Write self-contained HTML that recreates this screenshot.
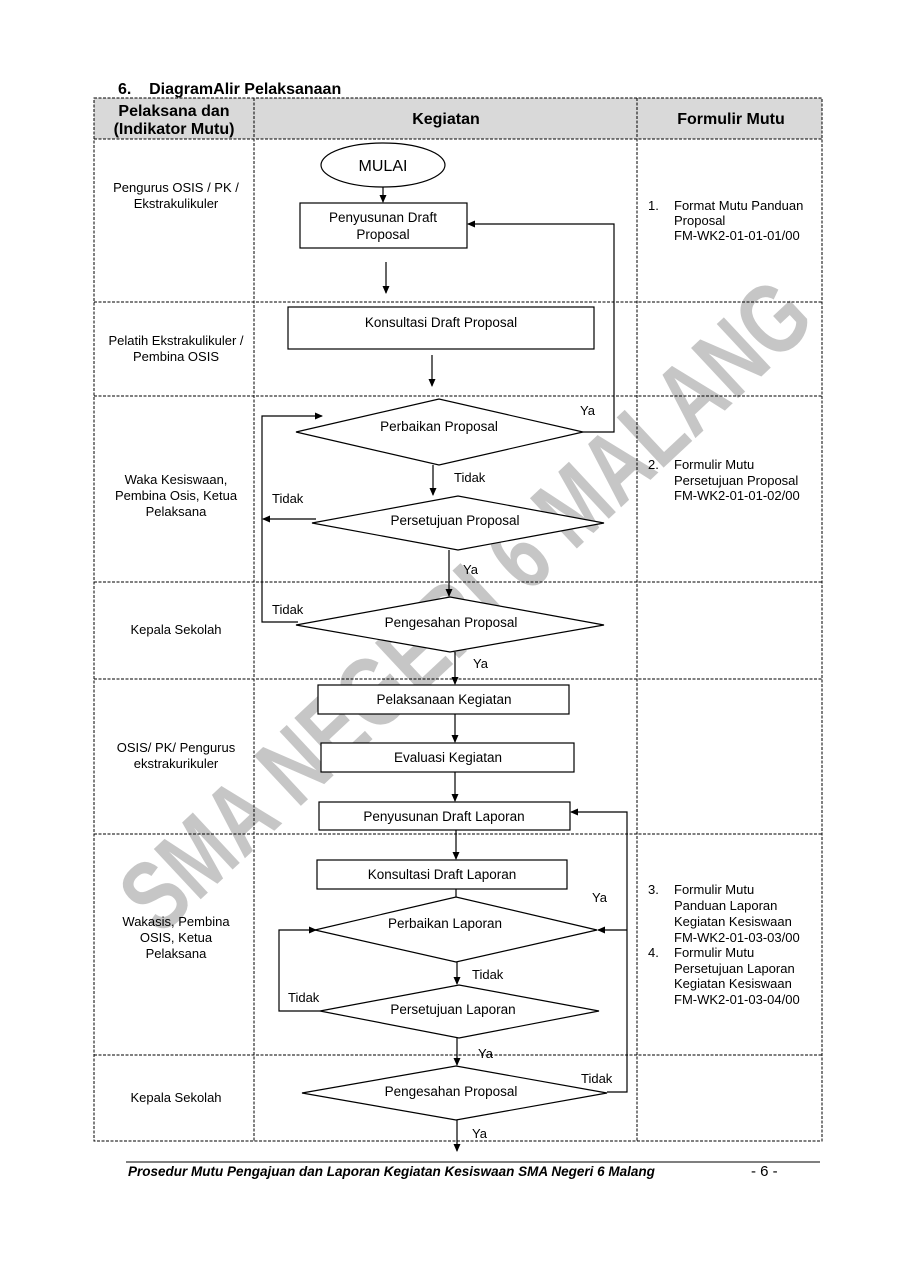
<!DOCTYPE html>
<html><head><meta charset="utf-8"><style>
html,body{margin:0;padding:0;background:#fff;}
svg{display:block;}
text{font-family:"Liberation Sans",sans-serif;fill:#000;}
</style></head><body>
<svg width="900" height="1273" viewBox="0 0 900 1273" xmlns="http://www.w3.org/2000/svg">
<defs>
<marker id="a" markerWidth="8" markerHeight="8" refX="7" refY="4" orient="auto" markerUnits="userSpaceOnUse">
<path d="M0,0.5 L8,4 L0,7.5 Z" fill="#000"/></marker>
</defs>
<rect x="0" y="0" width="900" height="1273" fill="#fff"/>
<!-- watermark -->
<text x="465" y="640" transform="rotate(-43 465 605)" text-anchor="middle" font-size="100" font-weight="bold" textLength="900" lengthAdjust="spacingAndGlyphs" style="fill:#bdbdbd" opacity="0.85">SMA NEGERI 6 MALANG</text>

<text x="118" y="94" font-size="16" font-weight="bold">6.&#160;&#160;&#160;&#160;DiagramAlir Pelaksanaan</text>

<!-- table -->
<rect x="94" y="98" width="728" height="41" fill="#d9d9d9"/>
<g stroke="#000" stroke-width="1" stroke-dasharray="3,1.5" fill="none">
<rect x="94" y="98" width="728" height="1043"/>
<line x1="254" y1="98" x2="254" y2="1141"/>
<line x1="637" y1="98" x2="637" y2="1141"/>
<line x1="94" y1="139" x2="822" y2="139"/>
<line x1="94" y1="302" x2="822" y2="302"/>
<line x1="94" y1="396" x2="822" y2="396"/>
<line x1="94" y1="582" x2="822" y2="582"/>
<line x1="94" y1="679" x2="822" y2="679"/>
<line x1="94" y1="834" x2="822" y2="834"/>
<line x1="94" y1="1055" x2="822" y2="1055"/>
</g>
<g font-size="16" font-weight="bold" text-anchor="middle">
<text x="174" y="116">Pelaksana dan</text>
<text x="174" y="134">(Indikator Mutu)</text>
<text x="446" y="124">Kegiatan</text>
<text x="731" y="124">Formulir Mutu</text>
</g>
<g font-size="13" text-anchor="middle">
<text x="176" y="192">Pengurus OSIS / PK /</text>
<text x="176" y="208">Ekstrakulikuler</text>
<text x="176" y="345">Pelatih Ekstrakulikuler /</text>
<text x="176" y="361">Pembina OSIS</text>
<text x="176" y="484">Waka Kesiswaan,</text>
<text x="176" y="500">Pembina Osis, Ketua</text>
<text x="176" y="516">Pelaksana</text>
<text x="176" y="634">Kepala Sekolah</text>
<text x="176" y="752">OSIS/ PK/ Pengurus</text>
<text x="176" y="768">ekstrakurikuler</text>
<text x="176" y="926">Wakasis, Pembina</text>
<text x="176" y="942">OSIS, Ketua</text>
<text x="176" y="958">Pelaksana</text>
<text x="176" y="1102">Kepala Sekolah</text>
</g>
<g font-size="13">
<text x="648" y="210">1.</text>
<text x="674" y="210">Format Mutu Panduan</text>
<text x="674" y="225">Proposal</text>
<text x="674" y="240">FM-WK2-01-01-01/00</text>
<text x="648" y="469">2.</text>
<text x="674" y="469">Formulir Mutu</text>
<text x="674" y="485">Persetujuan Proposal</text>
<text x="674" y="500">FM-WK2-01-01-02/00</text>
<text x="648" y="894">3.</text>
<text x="674" y="894">Formulir Mutu</text>
<text x="674" y="910">Panduan Laporan</text>
<text x="674" y="926">Kegiatan Kesiswaan</text>
<text x="674" y="942">FM-WK2-01-03-03/00</text>
<text x="648" y="957">4.</text>
<text x="674" y="957">Formulir Mutu</text>
<text x="674" y="973">Persetujuan Laporan</text>
<text x="674" y="988">Kegiatan Kesiswaan</text>
<text x="674" y="1004">FM-WK2-01-03-04/00</text>
</g>

<!-- shapes -->
<g stroke="#000" stroke-width="1.2" fill="#fff">
<ellipse cx="383" cy="165" rx="62" ry="22"/>
<rect x="300" y="203" width="167" height="45"/>
<rect x="288" y="307" width="306" height="42"/>
<polygon points="296,432 439,399 583,432 439,465"/>
<polygon points="312,523 458,496 604,523 458,550"/>
<polygon points="296,625 450,597 604,625 450,652"/>
<rect x="318" y="685" width="251" height="29"/>
<rect x="321" y="743" width="253" height="29"/>
<rect x="319" y="802" width="251" height="28"/>
<rect x="317" y="860" width="250" height="29"/>
<polygon points="315,930 456,897 597,930 456,962"/>
<polygon points="320,1011 459,985 599,1011 459,1038"/>
<polygon points="302,1093 456,1066 607,1093 456,1120"/>
</g>
<g font-size="13.5" text-anchor="middle">
<text x="383" y="171" font-size="16">MULAI</text>
<text x="383" y="222">Penyusunan Draft</text>
<text x="383" y="239">Proposal</text>
<text x="441" y="327">Konsultasi Draft Proposal</text>
<text x="439" y="431">Perbaikan Proposal</text>
<text x="455" y="525">Persetujuan Proposal</text>
<text x="451" y="627">Pengesahan Proposal</text>
<text x="444" y="704">Pelaksanaan Kegiatan</text>
<text x="448" y="762">Evaluasi Kegiatan</text>
<text x="444" y="821">Penyusunan Draft Laporan</text>
<text x="442" y="879">Konsultasi Draft Laporan</text>
<text x="445" y="928">Perbaikan Laporan</text>
<text x="453" y="1014">Persetujuan Laporan</text>
<text x="451" y="1096">Pengesahan Proposal</text>
</g>
<g font-size="13">
<text x="580" y="415">Ya</text>
<text x="454" y="482">Tidak</text>
<text x="272" y="503">Tidak</text>
<text x="463" y="574">Ya</text>
<text x="272" y="614">Tidak</text>
<text x="473" y="668">Ya</text>
<text x="592" y="902">Ya</text>
<text x="472" y="979">Tidak</text>
<text x="288" y="1002">Tidak</text>
<text x="478" y="1058">Ya</text>
<text x="581" y="1083">Tidak</text>
<text x="472" y="1138">Ya</text>
</g>

<!-- connectors -->
<g stroke="#000" stroke-width="1.2" fill="none">
<line x1="383" y1="187" x2="383" y2="202" marker-end="url(#a)"/>
<line x1="386" y1="262" x2="386" y2="293" marker-end="url(#a)"/>
<line x1="432" y1="355" x2="432" y2="386" marker-end="url(#a)"/>
<polyline points="583,432 614,432 614,224 468,224" marker-end="url(#a)"/>
<line x1="433" y1="465" x2="433" y2="495" marker-end="url(#a)"/>
<line x1="316" y1="519" x2="263" y2="519" marker-end="url(#a)"/>
<polyline points="298,622 262,622 262,416 322,416" marker-end="url(#a)"/>
<line x1="449" y1="550" x2="449" y2="596" marker-end="url(#a)"/>
<line x1="455" y1="652" x2="455" y2="684" marker-end="url(#a)"/>
<line x1="455" y1="714" x2="455" y2="742" marker-end="url(#a)"/>
<line x1="455" y1="772" x2="455" y2="801" marker-end="url(#a)"/>
<polyline points="607,1092 627,1092 627,812 571,812" marker-end="url(#a)"/>
<line x1="456" y1="830" x2="456" y2="859" marker-end="url(#a)"/>
<line x1="456" y1="889" x2="456" y2="897"/>
<line x1="627" y1="930" x2="598" y2="930" marker-end="url(#a)"/>
<polyline points="320,1011 279,1011 279,930 316,930" marker-end="url(#a)"/>
<line x1="457" y1="962" x2="457" y2="984" marker-end="url(#a)"/>
<line x1="457" y1="1038" x2="457" y2="1065" marker-end="url(#a)"/>
<line x1="457" y1="1120" x2="457" y2="1151" marker-end="url(#a)"/>
</g>

<!-- footer -->
<line x1="126" y1="1162" x2="820" y2="1162" stroke="#555" stroke-width="1.5"/>
<text x="128" y="1176" font-size="13.5" font-weight="bold" font-style="italic">Prosedur Mutu Pengajuan dan Laporan Kegiatan Kesiswaan SMA Negeri 6 Malang</text>
<text x="751" y="1176" font-size="15">- 6 -</text>
</svg>
</body></html>
